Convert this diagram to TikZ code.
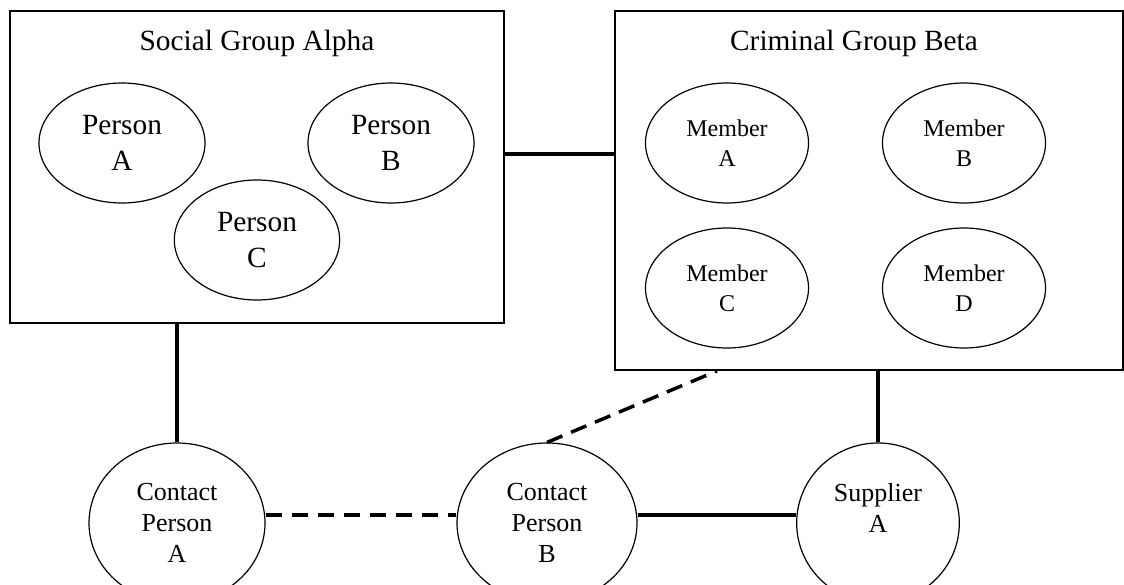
\documentclass[tikz,border=0pt]{standalone}
\usepackage{fontspec}
\setmainfont{Liberation Serif}
\usetikzlibrary{shapes.geometric}
\begin{document}
\begin{tikzpicture}[x=0.75pt,y=-0.75pt,
  group/.style={draw, line width=1.4pt, inner sep=0pt},
  oval/.style={draw, ellipse, line width=0.9pt, inner sep=0pt, align=center},
  personfont/.style={font=\fontsize{22}{27.5}\selectfont},
  memberfont/.style={font=\fontsize{18}{22.5}\selectfont},
  contactfont/.style={font=\fontsize{19.5}{23.25}\selectfont},
  titlefont/.style={font=\fontsize{22}{26}\selectfont},
  link/.style={line width=2.6pt},
  dlink/.style={line width=2.6pt, dash pattern=on 12.5pt off 7pt}]
\useasboundingbox (0,0) rectangle (1124,585);
\fill[white] (0,0) rectangle (1124,585);
\clip (0,0) rectangle (1124,585);

% group boxes
\node[group, minimum width=370.5pt, minimum height=234pt] (alpha) at (257,167) {};
\node[group, minimum width=381pt, minimum height=269.25pt] (beta) at (869,190.5) {};
\node[titlefont] (alphaT) at (257,43) {Social Group Alpha};
\node[titlefont] (betaT) at (854,43) {Criminal Group Beta};

% social group members
\node[oval, personfont, minimum width=124.5pt, minimum height=90pt] (pA) at (122,143) {Person\\A};
\node[oval, personfont, minimum width=124.5pt, minimum height=90pt] (pB) at (391,143) {Person\\B};
\node[oval, personfont, minimum width=124pt, minimum height=90pt] (pC) at (257,240) {Person\\C};

% criminal group members
\node[oval, memberfont, minimum width=122.25pt, minimum height=90pt] (mA) at (727,143) {Member\\A};
\node[oval, memberfont, minimum width=122.25pt, minimum height=90pt] (mB) at (964,143) {Member\\B};
\node[oval, memberfont, minimum width=122.25pt, minimum height=90pt] (mC) at (727,288) {Member\\C};
\node[oval, memberfont, minimum width=122.25pt, minimum height=90pt] (mD) at (964,288) {Member\\D};

% bottom row
\node[oval, contactfont, minimum width=132pt, minimum height=120pt] (cA) at (177,523) {Contact\\Person\\A};
\node[oval, contactfont, minimum width=135pt, minimum height=120pt] (cB) at (547,523) {Contact\\Person\\B};
\node[oval, contactfont, minimum width=122pt, minimum height=120pt] (sA) at (878,523) {Supplier\\A\\\mbox{}};

% connectors
\draw[link] ([yshift=9.75pt]alpha.east) -- ([yshift=9.75pt]alpha.east -| beta.west);
\draw[link] (cA.north) -- (cA.north |- alpha.south);
\draw[link] (sA.north) -- (sA.north |- beta.south);
\draw[dlink] ([yshift=6pt]cA.east) -- ([yshift=6pt]cB.west);
\draw[link] ([yshift=6pt]cB.east) -- ([yshift=6pt]sA.west);
\draw[dlink] (cB.north) -- ([xshift=-114pt]beta.south);
\end{tikzpicture}
\end{document}
